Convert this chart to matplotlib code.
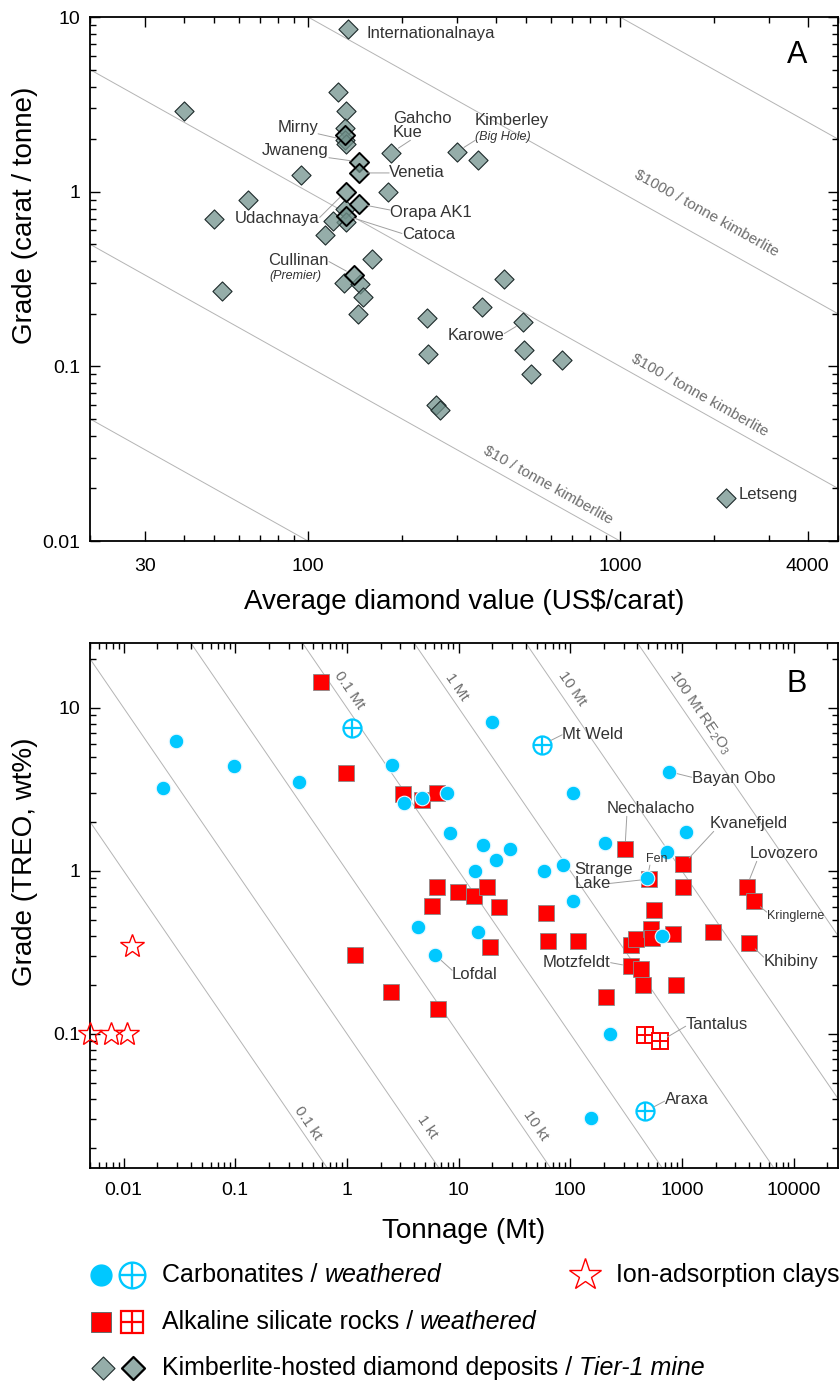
import numpy as np
import matplotlib
matplotlib.use('Agg')
import matplotlib.pyplot as plt
from matplotlib.ticker import FixedLocator, FuncFormatter, NullFormatter

plt.rcParams['font.family'] = ['Liberation Sans', 'DejaVu Sans']
plt.rcParams['mathtext.default'] = 'regular'

# ---------------- Panel A data: kimberlite diamond deposits ----------------
kimb_value = [134, 125, 132, 40, 131, 131, 132, 185, 300, 351, 95, 181, 64, 50,
              131, 132, 120, 113, 160, 130, 147, 150, 145, 53, 425, 361, 241,
              490, 243, 494, 653, 520, 258, 265, 2190]
kimb_grade = [8.5, 3.7, 2.9, 2.9, 2.3, 1.98, 1.88, 1.67, 1.69, 1.52, 1.25, 1.0,
              0.9, 0.7, 0.80, 0.67, 0.68, 0.565, 0.41, 0.30, 0.295, 0.25, 0.2,
              0.27, 0.316, 0.218, 0.19, 0.179, 0.118, 0.124, 0.108, 0.09, 0.06,
              0.056, 0.0177]
kimb_names = [''] * len(kimb_value)
kimb_names[0] = 'Internationalnaya'
kimb_names[5] = 'Mirny'
kimb_names[7] = 'Gahcho Kue'
kimb_names[8] = 'Kimberley'
kimb_names[27] = 'Karowe'
kimb_names[34] = 'Letseng'

tier1_value = [131, 146, 146, 132, 146, 132, 140]
tier1_grade = [2.12, 1.48, 1.28, 1.0, 0.85, 0.73, 0.333]
tier1_names = ['', 'Jwaneng', 'Venetia', 'Udachnaya', 'Orapa AK1', 'Catoca', 'Cullinan']

value_iso = [1, 10, 100, 1000, 10000]          # US$ / tonne kimberlite
value_iso_labels = {10: '$10 / tonne kimberlite', 100: '$100 / tonne kimberlite',
                    1000: '$1000 / tonne kimberlite'}

# ---------------- Panel B data: REE deposits ----------------
carb_t = [0.0294, 0.098, 0.0226, 0.372, 2.51, 3.26, 4.67, 7.93, 8.4, 16.7, 14.1,
          20.1, 768, 106, 1084, 203, 742, 490, 28.6, 21.7, 57.8, 85.5, 106, 14.8,
          4.33, 6.15, 668, 225, 152]
carb_g = [6.27, 4.4, 3.2, 3.5, 4.43, 2.6, 2.78, 2.99, 1.70, 1.44, 1.0, 8.17, 4.06,
          2.99, 1.74, 1.49, 1.30, 0.9, 1.36, 1.17, 1.0, 1.08, 0.648, 0.42, 0.453,
          0.305, 0.4, 0.1, 0.0303]
carb_names = [''] * len(carb_t)
carb_names[12] = 'Bayan Obo'
carb_names[17] = 'Fen'
carb_names[25] = 'Lofdal'

carbw_t = [1.12, 55.9, 470]
carbw_g = [7.5, 5.93, 0.0334]
carbw_names = ['', 'Mt Weld', 'Araxa']

alk_t = [0.59, 0.99, 3.16, 4.73, 6.37, 6.37, 9.96, 13.6, 5.74, 309, 1033, 504, 1020,
         3800, 4420, 18.1, 23.1, 60.7, 558, 19.2, 63.2, 118, 348, 391, 525, 544,
         839, 1905, 4010, 348, 427, 448, 893, 210, 1.17, 2.48, 6.55]
alk_g = [14.5, 4.0, 2.97, 2.73, 2.99, 0.8, 0.746, 0.703, 0.604, 1.36, 1.1, 0.889,
         0.8, 0.8, 0.648, 0.8, 0.599, 0.55, 0.577, 0.339, 0.369, 0.369, 0.348,
         0.381, 0.44, 0.387, 0.409, 0.42, 0.36, 0.259, 0.25, 0.2, 0.2, 0.169,
         0.305, 0.181, 0.142]
alk_names = [''] * len(alk_t)
alk_names[9] = 'Nechalacho'
alk_names[10] = 'Kvanefjeld'
alk_names[11] = 'Strange Lake'
alk_names[13] = 'Lovozero'
alk_names[14] = 'Kringlerne'
alk_names[28] = 'Khibiny'
alk_names[29] = 'Motzfeldt'

alkw_t = [463, 637]
alkw_g = [0.0977, 0.0898]
alkw_names = ['', 'Tantalus']

ion_t = [0.0119, 0.005, 0.0077, 0.0107]
ion_g = [0.347, 0.1, 0.1, 0.1]

reo_iso = [1e-4, 1e-3, 1e-2, 0.1, 1, 10, 100]   # Mt RE2O3
reo_iso_labels = {1e-4: '0.1 kt', 1e-3: '1 kt', 1e-2: '10 kt', 0.1: '0.1 Mt',
                  1: '1 Mt', 10: '10 Mt', 100: '100 Mt RE$_2$O$_3$'}

# ---------------- styles ----------------
CYAN = '#00C8FF'
RED = '#FF0000'
DIA_FACE = (0.447, 0.573, 0.549, 0.75)
DIA_EDGE = '#1e2b2b'
GRAYLINE = '#b4b4b4'
LEADER = '#a0a0a0'
TXT = '#333333'
ISOTXT = '#6e6e6e'

W, H = 840, 1382
fig = plt.figure(figsize=(W / 100, H / 100), dpi=100)


def pos(l, t, r, b):
    return [l / W, 1 - b / H, (r - l) / W, (b - t) / H]


axA = fig.add_axes(pos(90, 17, 838, 541))
axB = fig.add_axes(pos(90, 643, 838, 1168))

numfmt = FuncFormatter(lambda v, p: f'{v:g}')


def style_axes(ax):
    ax.set_xscale('log')
    ax.set_yscale('log')
    for s in ax.spines.values():
        s.set_linewidth(1.3)
    ax.tick_params(which='both', direction='in', top=True, right=True,
                   labelsize=14, width=1.0, colors='black', pad=7)
    ax.tick_params(which='major', length=7)
    ax.tick_params(which='minor', length=4)


# ================= Panel A =================
style_axes(axA)
axA.set_xlim(20, 5000)
axA.set_ylim(0.01, 10)
minors = [v * 10 ** e for e in range(1, 4) for v in range(2, 10)]
axA.xaxis.set_major_locator(FixedLocator([30, 100, 1000, 4000]))
axA.xaxis.set_minor_locator(FixedLocator([m for m in minors if m not in (30, 4000)]))
axA.xaxis.set_major_formatter(numfmt)
axA.xaxis.set_minor_formatter(NullFormatter())
axA.yaxis.set_major_locator(FixedLocator([0.01, 0.1, 1, 10]))
axA.yaxis.set_minor_locator(FixedLocator([v * 10 ** e for e in range(-2, 1) for v in range(2, 10)]))
axA.yaxis.set_major_formatter(numfmt)
axA.yaxis.set_minor_formatter(NullFormatter())
axA.tick_params(axis='x', pad=12)
axA.set_xlabel('Average diamond value (US$/carat)', fontsize=20, labelpad=10)
axA.set_ylabel('Grade (carat / tonne)', fontsize=20)
axA.yaxis.set_label_coords(-0.069, 0.622)

xs = np.logspace(np.log10(20), np.log10(5000), 200)
for c in value_iso:
    axA.plot(xs, c / xs, color=GRAYLINE, lw=0.7, zorder=1)


def iso_angle(ax, f, x1, x2):
    p1 = ax.transData.transform((x1, f(x1)))
    p2 = ax.transData.transform((x2, f(x2)))
    return np.degrees(np.arctan2(p2[1] - p1[1], p2[0] - p1[0]))


angA = iso_angle(axA, lambda x: 1 / x, 100, 1000)
isoA_pos = {1000: (1888, 0.755), 100: (1804, 0.0686), 10: (588, 0.0209)}
for c, (lx, ly) in isoA_pos.items():
    axA.text(lx, ly, value_iso_labels[c], rotation=angA, rotation_mode='anchor',
             ha='center', va='center', fontsize=11, color=ISOTXT, zorder=2)

axA.scatter(kimb_value, kimb_grade, marker='D', s=95, facecolors=[DIA_FACE],
            edgecolors=DIA_EDGE, linewidths=0.8, zorder=3)
axA.scatter(tier1_value, tier1_grade, marker='D', s=95, facecolors=[DIA_FACE],
            edgecolors='black', linewidths=1.4, zorder=4)


def find(names, xs_, ys_, name):
    i = names.index(name)
    return xs_[i], ys_[i]


def annot(ax, text, xy, xytext, ha='left', relpos=None, size=12, style='normal',
          leader=True, color=TXT, shrinkB=6, linespacing=0.95):
    props = None
    if leader:
        props = dict(arrowstyle='-', color=LEADER, lw=0.7, shrinkA=0, shrinkB=shrinkB,
                     patchA=None, relpos=relpos if relpos else (0.5, 0.5))
    ax.annotate(text, xy=xy, xytext=xytext, textcoords='data', ha=ha, va='center',
                fontsize=size, fontstyle=style, color=color, arrowprops=props,
                zorder=6, linespacing=linespacing)


kA = lambda n: find(kimb_names, kimb_value, kimb_grade, n)
tA = lambda n: find(tier1_names, tier1_value, tier1_grade, n)

annot(axA, 'Internationalnaya', kA('Internationalnaya'), (154.5, 8.0), leader=False)
annot(axA, 'Mirny', kA('Mirny'), (107.7, 2.32), ha='right', relpos=(1, 0.1))
annot(axA, 'Gahcho\nKue', kA('Gahcho Kue'), (187, 2.39), relpos=(0.3, 0))
annot(axA, 'Kimberley', kA('Kimberley'), (343, 2.57), leader=False)
annot(axA, '(Big Hole)', kA('Kimberley'), (343, 2.06), size=9, style='italic', relpos=(0, 0.2))
annot(axA, 'Jwaneng', tA('Jwaneng'), (116.7, 1.71), ha='right', relpos=(1, 0.05))
annot(axA, 'Venetia', tA('Venetia'), (182, 1.28), relpos=(0, 0.5))
annot(axA, 'Orapa AK1', tA('Orapa AK1'), (183, 0.755), relpos=(0, 0.7))
annot(axA, 'Udachnaya', tA('Udachnaya'), (109, 0.698), ha='right', relpos=(1, 0.6))
annot(axA, 'Catoca', tA('Catoca'), (200, 0.565), relpos=(0, 0.6))
annot(axA, 'Cullinan', tA('Cullinan'), (116.7, 0.406), ha='right', relpos=(1, 0.4))
annot(axA, '(Premier)', tA('Cullinan'), (110, 0.33), ha='right', size=9, style='italic', leader=False)
annot(axA, 'Karowe', kA('Karowe'), (280, 0.151), relpos=(1, 0.6))
annot(axA, 'Letseng', kA('Letseng'), (2400, 0.0185), leader=False)
axA.text(0.945, 0.927, 'A', transform=axA.transAxes, fontsize=22, ha='center', va='center')

# ================= Panel B =================
style_axes(axB)
axB.set_xlim(0.005, 25000)
axB.set_ylim(0.015, 25)
axB.xaxis.set_major_locator(FixedLocator([10.0 ** e for e in range(-2, 5)]))
axB.xaxis.set_minor_locator(FixedLocator([v * 10 ** e for e in range(-3, 5) for v in range(2, 10)]))
axB.xaxis.set_major_formatter(numfmt)
axB.xaxis.set_minor_formatter(NullFormatter())
axB.yaxis.set_major_locator(FixedLocator([0.1, 1, 10]))
axB.yaxis.set_minor_locator(FixedLocator([v * 10 ** e for e in range(-2, 2) for v in range(2, 10)]))
axB.yaxis.set_major_formatter(numfmt)
axB.yaxis.set_minor_formatter(NullFormatter())
axB.tick_params(axis='x', pad=10)
axB.set_xlabel('Tonnage (Mt)', fontsize=20, labelpad=14)
axB.set_ylabel('Grade (TREO, wt%)', fontsize=20)
axB.yaxis.set_label_coords(-0.069, 0.583)

xt = np.logspace(np.log10(0.005), np.log10(25000), 300)
for c in reo_iso:
    axB.plot(xt, c * 100 / xt, color=GRAYLINE, lw=0.7, zorder=1)

angB = iso_angle(axB, lambda x: 1 / x, 1, 10)
isoB_pos = {0.1: (1.06, 12.9), 1: (9.64, 13.5), 10: (104, 13.2), 100: (1426, 9.27),
            1e-4: (0.445, 0.0284), 1e-3: (5.21, 0.0268), 1e-2: (49.4, 0.0274)}
for c, (lx, ly) in isoB_pos.items():
    axB.text(lx, ly, reo_iso_labels[c], rotation=angB, rotation_mode='anchor',
             ha='center', va='center', fontsize=11, color=ISOTXT, zorder=2)

axB.plot(alk_t, alk_g, 's', ms=11, mfc=RED, mec='#8a8a8a', mew=0.6, ls='none', zorder=3)
axB.plot(carb_t, carb_g, 'o', ms=10.5, mfc=CYAN, mec='#e8f8ff', mew=0.8, ls='none', zorder=4)
axB.plot(carbw_t, carbw_g, 'o', ms=13, mfc='white', mec=CYAN, mew=1.6, ls='none', zorder=5)
axB.plot(carbw_t, carbw_g, '+', ms=13, mec=CYAN, mew=1.6, ls='none', zorder=5)
axB.plot(alkw_t, alkw_g, 's', ms=11.5, mfc='white', mec=RED, mew=1.4, ls='none', zorder=5)
axB.plot(alkw_t, alkw_g, '+', ms=11.5, mec=RED, mew=1.4, ls='none', zorder=5)
axB.plot(ion_t, ion_g, '*', ms=18, mfc='none', mec=RED, mew=1.0, ls='none', zorder=5,
         clip_on=False)

cB = lambda n: find(carb_names, carb_t, carb_g, n)
cwB = lambda n: find(carbw_names, carbw_t, carbw_g, n)
aB = lambda n: find(alk_names, alk_t, alk_g, n)
awB = lambda n: find(alkw_names, alkw_t, alkw_g, n)

annot(axB, 'Mt Weld', cwB('Mt Weld'), (84.5, 6.83), relpos=(0, 0.5), shrinkB=7)
annot(axB, 'Bayan Obo', cB('Bayan Obo'), (1225, 3.67), relpos=(0, 0.6))
annot(axB, 'Nechalacho', aB('Nechalacho'), (211, 2.4), relpos=(0.23, 0))
annot(axB, 'Kvanefjeld', aB('Kvanefjeld'), (1778, 1.94), relpos=(0.05, 0))
annot(axB, 'Fen', cB('Fen'), (473, 1.18), size=9, relpos=(0.2, 0))
annot(axB, 'Strange\nLake', aB('Strange Lake'), (109, 0.925), relpos=(0.57, 0.25))
annot(axB, 'Lovozero', aB('Lovozero'), (4060, 1.27), relpos=(0.1, 0))
annot(axB, 'Kringlerne', aB('Kringlerne'), (5750, 0.53), size=9, relpos=(0, 0.8))
annot(axB, 'Khibiny', aB('Khibiny'), (5400, 0.277), relpos=(0, 0.8))
annot(axB, 'Motzfeldt', aB('Motzfeldt'), (230, 0.273), ha='right', relpos=(1, 0.5))
annot(axB, 'Lofdal', cB('Lofdal'), (8.75, 0.23), relpos=(0, 0.8))
annot(axB, 'Tantalus', awB('Tantalus'), (1081, 0.1136), relpos=(0, 0.4))
annot(axB, 'Araxa', cwB('Araxa'), (700, 0.0394), relpos=(0, 0.4), shrinkB=7)
axB.text(0.945, 0.921, 'B', transform=axB.transAxes, fontsize=22, ha='center', va='center')

# ================= Legend =================
leg = fig.add_axes([0, 0, 1, (H - 1240) / H])
leg.set_xlim(0, W)
leg.set_ylim(H, 1240)
leg.axis('off')
renderer = fig.canvas.get_renderer()


def two_part(x, y, a, b, size=18):
    t = leg.text(x, y, a, fontsize=size, va='center', ha='left', color='black')
    bb = t.get_window_extent(renderer)
    x2 = leg.transData.inverted().transform((bb.x1, bb.y0))[0] + 0.278 * size * 100 / 72
    leg.text(x2, y, b, fontsize=size, va='center', ha='left', fontstyle='italic', color='black')


rows = [1275, 1322, 1368]
leg.plot([101], [rows[0]], 'o', ms=15, mfc=CYAN, mec=CYAN)
leg.plot([132], [rows[0]], 'o', ms=18.5, mfc='white', mec=CYAN, mew=1.7)
leg.plot([132], [rows[0]], '+', ms=18.5, mec=CYAN, mew=1.7)
two_part(162, rows[0], 'Carbonatites /', 'weathered')
leg.plot([585], [rows[0]], '*', ms=24, mfc='none', mec=RED, mew=1.0)
leg.text(616, rows[0], 'Ion-adsorption clays', fontsize=18, va='center', ha='left')

leg.plot([101], [rows[1]], 's', ms=15, mfc=RED, mec='#6a6a6a', mew=0.7)
leg.plot([132], [rows[1]], 's', ms=15.5, mfc='white', mec=RED, mew=1.6)
leg.plot([132], [rows[1]], '+', ms=15.5, mec=RED, mew=1.6)
two_part(162, rows[1], 'Alkaline silicate rocks /', 'weathered')

leg.scatter([103], [rows[2]], marker='D', s=137, facecolors=[DIA_FACE], edgecolors=DIA_EDGE, linewidths=0.8)
leg.scatter([133], [rows[2]], marker='D', s=137, facecolors=[DIA_FACE], edgecolors='black', linewidths=1.6)
two_part(162, rows[2], 'Kimberlite-hosted diamond deposits /', 'Tier-1 mine')

fig.savefig('out.png', dpi=100)
